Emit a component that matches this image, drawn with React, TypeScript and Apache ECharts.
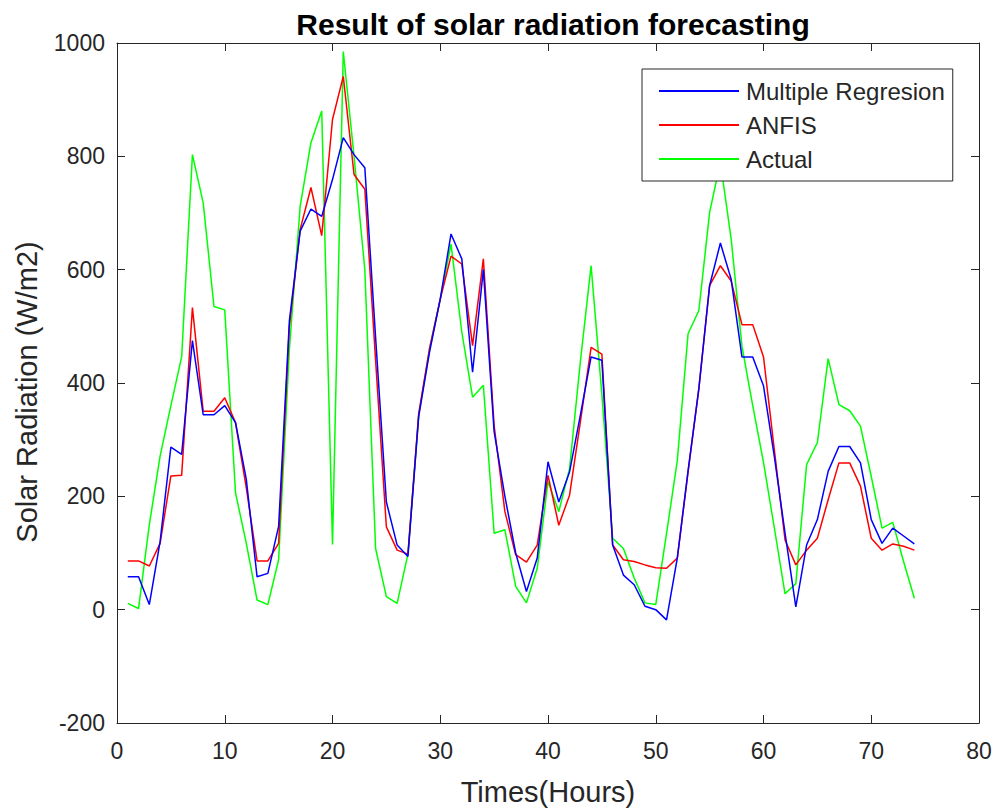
import React, { useEffect, useRef } from "react";
import * as echarts from "echarts";

const hours: number[] = Array.from({ length: 74 }, (_, i) => i + 1);

const multipleRegression: number[] = [
  58, 58, 9, 120, 287, 274, 475, 344, 344, 360,
  330, 230, 58, 64, 147, 510, 668, 707, 694, 759,
  833, 803, 780, 480, 190, 114, 94, 341, 454, 548,
  663, 619, 419, 600, 314, 200, 100, 32, 91, 261,
  190, 243, 343, 446, 440, 114, 61, 44, 6, 0,
  -18, 91, 245, 390, 572, 647, 583, 446, 446, 395,
  271, 135, 5, 114, 159, 244, 288, 288, 259, 159,
  117, 144, 130, 116,
];

const anfis: number[] = [
  86, 86, 77, 117, 236, 237, 533, 350, 350, 374,
  330, 215, 86, 86, 117, 500, 671, 745, 660, 865,
  941, 768, 742, 440, 146, 105, 98, 346, 460, 548,
  624, 610, 466, 619, 325, 173, 97, 84, 114, 237,
  149, 202, 331, 463, 451, 114, 88, 85, 79, 74,
  73, 91, 243, 390, 572, 607, 580, 503, 503, 446,
  283, 123, 79, 105, 126, 194, 259, 259, 218, 126,
  105, 116, 112, 105,
];

const actual: number[] = [
  11, 2, 150, 271, 360, 446, 803, 718, 535, 529,
  206, 117, 17, 9, 88, 460, 712, 824, 880, 115,
  985, 800, 600, 108, 23, 11, 98, 343, 460, 548,
  645, 490, 375, 396, 135, 141, 41, 12, 73, 226,
  173, 249, 437, 607, 380, 126, 108, 56, 12, 9,
  134, 263, 487, 528, 701, 790, 654, 465, 360, 260,
  145, 28, 46, 256, 295, 443, 362, 351, 324, 235,
  144, 154, 85, 20,
];

const seriesNames: string[] = ["Multiple Regresion", "ANFIS", "Actual"];
const seriesColors: string[] = ["#0000ff", "#ff0000", "#00ff00"];

const FONT = "'Liberation Sans', Arial, Helvetica, sans-serif";
const TXT = "#262626";

export default function App() {
  const ref = useRef<HTMLDivElement>(null);

  useEffect(() => {
    if (!ref.current) return;
    const chart = echarts.init(ref.current, undefined, { renderer: "svg" });
    const values = [multipleRegression, anfis, actual];
    const gridL = 117;
    const gridT = 43;
    const gridW = 862;
    const gridH = 682;

    const axisCommon = {
      axisLine: { show: true, onZero: false, lineStyle: { color: TXT, width: 1 } },
      axisTick: { show: true, inside: true, length: 8, lineStyle: { color: TXT } },
      splitLine: { show: false },
    };

    chart.setOption({
      animation: false,
      backgroundColor: "#ffffff",
      title: {
        text: "Result of solar radiation forecasting",
        left: gridL + gridW / 2,
        top: 4,
        textAlign: "center",
        textStyle: { fontFamily: FONT, fontWeight: "bold", fontSize: 30, color: "#000000" },
      },
      grid: { left: gridL, top: gridT, width: gridW, height: gridH, containLabel: false },
      legend: {
        data: seriesNames,
        orient: "vertical",
        left: 642,
        top: 69,
        icon: "rect",
        itemWidth: 80,
        itemHeight: 2,
        itemGap: 10,
        padding: [10, 8, 10, 17],
        borderColor: TXT,
        borderWidth: 1,
        backgroundColor: "#ffffff",
        textStyle: { fontFamily: FONT, fontSize: 24, color: TXT, lineHeight: 24, padding: [0, 0, 0, 2] },
      },
      xAxis: [
        {
          type: "value",
          min: 0,
          max: 80,
          interval: 10,
          position: "bottom",
          ...axisCommon,
          axisLabel: { fontFamily: FONT, fontSize: 23, color: TXT, margin: 16 },
          name: "Times(Hours)",
          nameLocation: "middle",
          nameGap: 54,
          nameTextStyle: { fontFamily: FONT, fontSize: 29, color: TXT },
        },
        {
          type: "value",
          min: 0,
          max: 80,
          interval: 10,
          position: "top",
          ...axisCommon,
          axisLabel: { show: false },
        },
      ],
      yAxis: [
        {
          type: "value",
          min: -200,
          max: 1000,
          interval: 200,
          position: "left",
          ...axisCommon,
          axisLabel: {
            fontFamily: FONT,
            fontSize: 23,
            color: TXT,
            margin: 12,
            formatter: (v: number) => String(v),
          },
        },
        {
          type: "value",
          min: -200,
          max: 1000,
          interval: 200,
          position: "right",
          ...axisCommon,
          axisLabel: { show: false },
        },
      ],
      graphic: [
        {
          type: "text",
          x: 27,
          y: 392,
          rotation: Math.PI / 2,
          style: {
            text: "Solar Radiation (W/m2)",
            font: `29px ${FONT}`,
            fill: TXT,
            textAlign: "center",
            textVerticalAlign: "middle",
            align: "center",
            verticalAlign: "middle",
          },
        },
      ],
      series: seriesNames.map((name, si) => ({
        name,
        type: "line",
        xAxisIndex: 0,
        yAxisIndex: 0,
        symbol: "none",
        color: seriesColors[si],
        lineStyle: { color: seriesColors[si], width: 1.5 },
        data: hours.map((h, i) => [h, values[si][i]]),
        z: 3 - si,
      })),
    });

    return () => chart.dispose();
  }, []);

  return (
    <div
      ref={ref}
      style={{ position: "fixed", left: 0, top: 0, width: 997, height: 811, background: "#fff" }}
    />
  );
}
